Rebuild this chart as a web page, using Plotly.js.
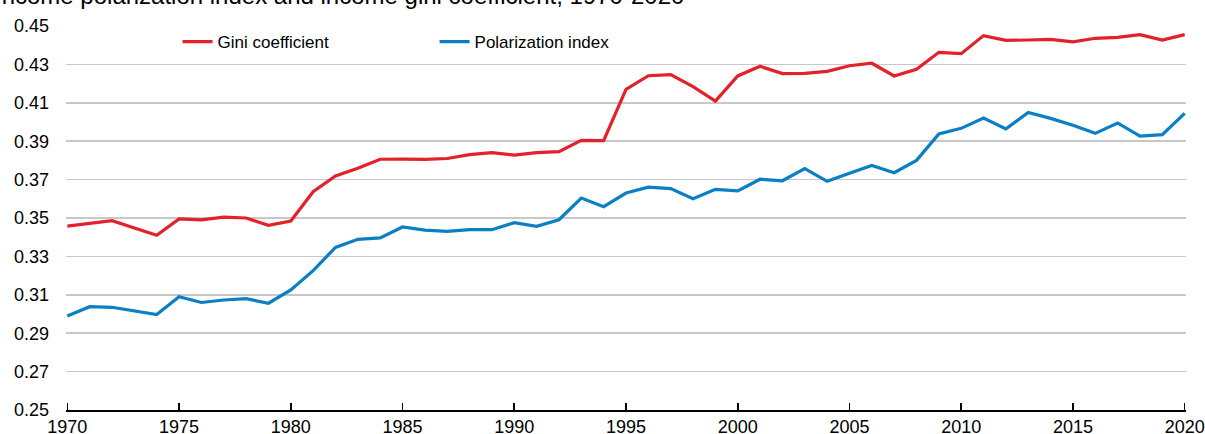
<!DOCTYPE html>
<html>
<head>
<meta charset="utf-8">
<script src="https://cdn.plot.ly/plotly-3.0.1.min.js"></script>
<style>html,body{margin:0;padding:0;background:#fff;}#chart{width:1205px;height:434px;}</style>
</head>
<body>
<div id="chart"></div>
<script>
const years = [1970,1971,1972,1973,1974,1975,1976,1977,1978,1979,1980,1981,1982,1983,1984,1985,1986,1987,1988,1989,1990,1991,1992,1993,1994,1995,1996,1997,1998,1999,2000,2001,2002,2003,2004,2005,2006,2007,2008,2009,2010,2011,2012,2013,2014,2015,2016,2017,2018,2019,2020];
const gini = [0.3458,0.3472,0.3486,0.3448,0.3410,0.3495,0.3490,0.3505,0.3500,0.3462,0.3484,0.3637,0.3719,0.3759,0.3806,0.3807,0.3805,0.3810,0.3830,0.3840,0.3828,0.3840,0.3846,0.3904,0.3903,0.4170,0.4241,0.4247,0.4184,0.4109,0.4240,0.4290,0.4252,0.4253,0.4264,0.4293,0.4306,0.4240,0.4274,0.4363,0.4356,0.4450,0.4425,0.4427,0.4430,0.4417,0.4436,0.4441,0.4455,0.4427,0.4455];
const polarization = [0.2990,0.3038,0.3035,0.3016,0.2997,0.3090,0.3060,0.3073,0.3080,0.3056,0.3125,0.3226,0.3347,0.3389,0.3396,0.3453,0.3437,0.3430,0.3439,0.3439,0.3476,0.3457,0.3491,0.3604,0.3559,0.3630,0.3661,0.3653,0.3600,0.3649,0.3641,0.3702,0.3694,0.3757,0.3691,0.3733,0.3774,0.3736,0.3800,0.3938,0.3967,0.4021,0.3964,0.4050,0.4019,0.3983,0.3941,0.3995,0.3927,0.3934,0.4045];
const seriesNames = ['Gini coefficient','Polarization index'];
const yTicks = [0.25,0.27,0.29,0.31,0.33,0.35,0.37,0.39,0.41,0.43,0.45];
const yTickText = ['0.25','0.27','0.29','0.31','0.33','0.35','0.37','0.39','0.41','0.43','0.45'];
const xTicks = [1970,1975,1980,1985,1990,1995,2000,2005,2010,2015,2020];
const titleText = 'Income polarization index and income gini coefficient, 1970-2020';

const FONT = 'Liberation Sans, Arial, sans-serif';
const traces = [
  {x: years, y: gini, name: seriesNames[0], type: 'scatter', mode: 'lines',
   line: {color: '#e2212b', width: 3.2}},
  {x: years, y: polarization, name: seriesNames[1], type: 'scatter', mode: 'lines',
   line: {color: '#0b7fc4', width: 3.2}}
];
const layout = {
  width: 1205, height: 434,
  margin: {l: 65.66, r: 18.66, t: 26, b: 24, pad: 0},
  paper_bgcolor: '#fff', plot_bgcolor: '#fff',
  font: {family: FONT, color: '#000', size: 18},
  showlegend: true,
  legend: {orientation: 'h', x: 0.0996, xanchor: 'left', y: 1.005, yanchor: 'top',
    font: {family: FONT, size: 17, color: '#000'},
    bgcolor: 'rgba(0,0,0,0)', entrywidth: 212, entrywidthmode: 'pixels'},
  xaxis: {range: [1969.94, 2020.06], tickvals: xTicks, ticktext: xTicks.map(String),
    showgrid: false, zeroline: false, showline: true, linecolor: '#000', linewidth: 1.6,
    ticks: 'inside', ticklen: 7, tickwidth: 1.6, tickcolor: '#000',
    tickfont: {size: 18, family: FONT}, fixedrange: true, automargin: false,
    ticklabeloverflow: 'allow'},
  yaxis: {range: [0.25, 0.45], tickvals: yTicks, ticktext: yTickText,
    showgrid: true, gridcolor: '#c8c8c8', gridwidth: 1.6, zeroline: false,
    showline: false, ticks: '', ticklabelstandoff: 16,
    tickfont: {size: 18, family: FONT}, fixedrange: true},
  annotations: [{text: titleText, xref: 'paper', yref: 'paper', x: -0.0652, y: 1.039,
    xanchor: 'left', yanchor: 'bottom', showarrow: false,
    font: {family: FONT, size: 24, color: '#000'}}]
};
Plotly.newPlot('chart', traces, layout, {displayModeBar: false, staticPlot: true});
</script>
</body>
</html>
